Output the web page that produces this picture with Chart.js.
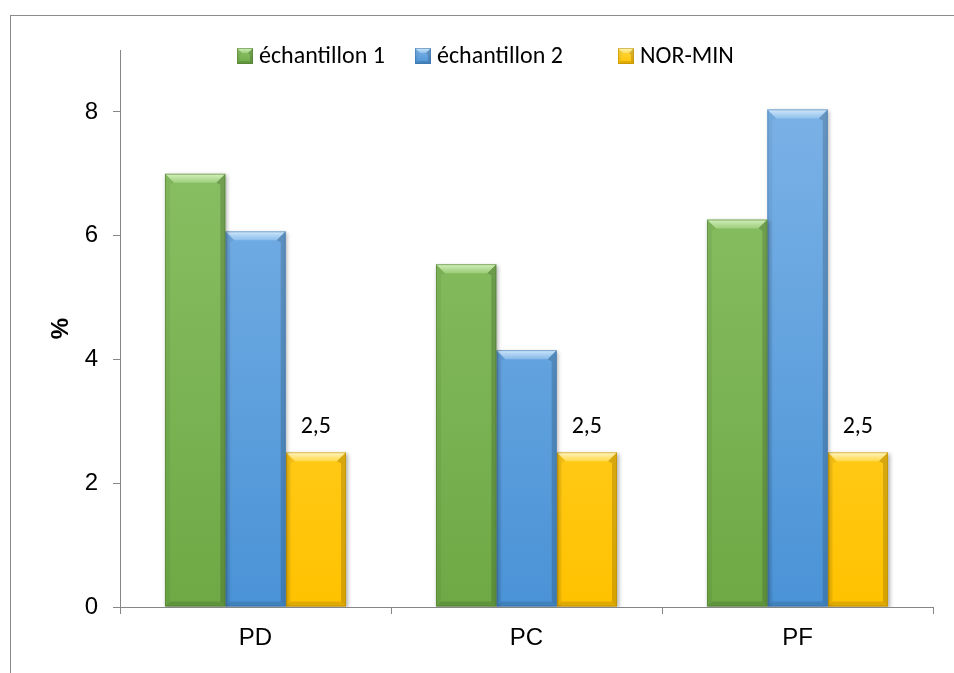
<!DOCTYPE html>
<html>
<head>
<meta charset="utf-8">
<script src="https://cdn.jsdelivr.net/npm/chart.js@4/dist/chart.umd.min.js"></script>
<style>
  html, body { margin: 0; padding: 0; background: #fff; }
  #wrap { width: 954px; height: 673px; position: relative; }
</style>
</head>
<body>
<div id="wrap"><canvas id="c" width="954" height="673"></canvas></div>
<script>
// Data
const categories = ['PD', 'PC', 'PF'];
const seriesNames = ['échantillon 1', 'échantillon 2', 'NOR-MIN'];
const sample1 = [7.0, 5.54, 6.26];
const sample2 = [6.07, 4.15, 8.04];
const norMin = [2.5, 2.5, 2.5];
const yTicks = [0, 2, 4, 6, 8];

// Bevelled fill palettes per series
const palettes = [
  { top: '#8fc46a', bottom: '#6ea945', hi: 'rgba(225,248,205,0.90)', hi2: 'rgba(190,230,160,0.45)', line: '#4f7d32' },
  { top: '#80b5e8', bottom: '#4a93d6', hi: 'rgba(225,242,255,0.90)', hi2: 'rgba(180,215,248,0.45)', line: '#3a72aa' },
  { top: '#ffd94a', bottom: '#ffc200', hi: 'rgba(255,250,215,0.95)', hi2: 'rgba(255,232,130,0.50)', line: '#b88d00' }
];

const AXIS_FONT = 'Liberation Sans, Arial, sans-serif';
const TEXT_FONT = 'Carlito, Lato, sans-serif';

function bodyGradient(ctx, idx) {
  const chart = ctx.chart;
  const area = chart.chartArea;
  if (!area) return palettes[idx].bottom;
  const g = chart.ctx.createLinearGradient(0, area.top, 0, area.bottom);
  g.addColorStop(0, palettes[idx].top);
  g.addColorStop(1, palettes[idx].bottom);
  return g;
}

function poly(c, pts, fill) {
  c.beginPath();
  c.moveTo(pts[0][0], pts[0][1]);
  for (let i = 1; i < pts.length; i++) c.lineTo(pts[i][0], pts[i][1]);
  c.closePath();
  c.fillStyle = fill;
  c.fill();
}

// Draws the bevel overlay on a rectangle (l,t)-(r,b)
function bevel(c, l, t, r, b, p, st, ss) {
  const h = b - t, w = r - l;
  const s = Math.min(st, h / 2, w / 2);
  const e = Math.min(ss, h / 2, w / 2);
  const g = c.createLinearGradient(0, t, 0, t + s);
  g.addColorStop(0, p.hi);
  g.addColorStop(1, p.hi2);
  poly(c, [[l, t], [r, t], [r - s, t + s], [l + s, t + s]], g);
  poly(c, [[l, t], [l + s, t + s], [l + e, t + s + 2], [l + e, b - e], [l, b]], 'rgba(0,0,0,0.05)');
  poly(c, [[r, t], [r, b], [r - e, b - e], [r - e, t + s + 2], [r - s, t + s]], 'rgba(0,0,0,0.16)');
  poly(c, [[l, b], [r, b], [r - e, b - e], [l + e, b - e]], 'rgba(0,0,0,0.12)');
  c.strokeStyle = p.line;
  c.globalAlpha = 0.55;
  c.lineWidth = 1;
  c.strokeRect(l + 0.5, t + 0.5, w - 1, h - 1);
  c.globalAlpha = 1;
}

const framePlugin = {
  id: 'frame',
  beforeDraw(chart) {
    const c = chart.ctx;
    c.save();
    c.strokeStyle = '#8c8c8c';
    c.lineWidth = 1;
    c.strokeRect(10.5, 15.5, 1000, 700);
    c.restore();
  }
};

const bevelPlugin = {
  id: 'bevel',
  beforeDatasetDraw(chart) {
    const c = chart.ctx;
    c.save();
    c.shadowColor = 'rgba(0,0,0,0.30)';
    c.shadowBlur = 4;
    c.shadowOffsetX = 1.5;
    c.shadowOffsetY = 1.5;
  },
  afterDatasetDraw(chart, args) {
    const c = chart.ctx;
    c.restore();
    c.save();
    const meta = args.meta;
    meta.data.forEach(el => {
      const { x, y, base, width } = el.getProps(['x', 'y', 'base', 'width'], true);
      bevel(c, x - width / 2, y, x + width / 2, base, palettes[args.index], 9, 5);
    });
    c.restore();
  }
};

const valueLabelPlugin = {
  id: 'valueLabels',
  afterDatasetsDraw(chart) {
    const c = chart.ctx;
    const idx = 2;
    const meta = chart.getDatasetMeta(idx);
    const data = chart.data.datasets[idx].data;
    c.save();
    c.font = '24px ' + TEXT_FONT;
    c.fillStyle = '#000';
    c.textAlign = 'center';
    c.textBaseline = 'middle';
    meta.data.forEach((el, i) => {
      const { x, y } = el.getProps(['x', 'y'], true);
      c.fillText(String(data[i]).replace('.', ','), x, y - 25);
    });
    c.restore();
  }
};

const legendPlugin = {
  id: 'topLegend',
  afterDraw(chart, args, opts) {
    const c = chart.ctx;
    c.save();
    c.font = '24px ' + TEXT_FONT;
    c.textBaseline = 'middle';
    c.textAlign = 'left';
    chart.data.datasets.forEach((ds, i) => {
      const bx = opts.x[i], by = opts.y;
      const p = palettes[i];
      const g = c.createLinearGradient(0, by, 0, by + 16);
      g.addColorStop(0, p.top);
      g.addColorStop(1, p.bottom);
      c.fillStyle = g;
      c.fillRect(bx, by, 16, 16);
      bevel(c, bx, by, bx + 16, by + 16, p, 5, 3);
      c.fillStyle = '#000';
      c.fillText(ds.label, bx + 22, by + 8.5);
    });
    c.restore();
  }
};

new Chart(document.getElementById('c'), {
  type: 'bar',
  data: {
    labels: categories,
    datasets: [
      { label: seriesNames[0], data: sample1, backgroundColor: ctx => bodyGradient(ctx, 0) },
      { label: seriesNames[1], data: sample2, backgroundColor: ctx => bodyGradient(ctx, 1) },
      { label: seriesNames[2], data: norMin, backgroundColor: ctx => bodyGradient(ctx, 2) }
    ]
  },
  options: {
    responsive: false,
    animation: false,
    devicePixelRatio: 1,
    layout: { padding: { left: 0, top: 50, right: 21, bottom: 0 } },
    datasets: { bar: { categoryPercentage: 0.668, barPercentage: 1, borderWidth: 0 } },
    plugins: {
      legend: { display: false },
      tooltip: { enabled: false },
      topLegend: { x: [237, 415, 618], y: 48 }
    },
    scales: {
      x: {
        offset: true,
        grid: { offset: true, drawOnChartArea: false, drawTicks: true, tickLength: 7, color: '#868686' },
        border: { display: true, color: '#868686', width: 1 },
        ticks: { font: { family: AXIS_FONT, size: 24 }, color: '#000', padding: 10 },
        afterFit(s) { s.height = 66; }
      },
      y: {
        min: 0,
        max: 9,
        afterBuildTicks(s) { s.ticks = yTicks.map(v => ({ value: v })); },
        grid: { drawOnChartArea: false, drawTicks: true, tickLength: 7, color: '#868686' },
        border: { display: true, color: '#868686', width: 1 },
        ticks: { font: { family: AXIS_FONT, size: 24 }, color: '#000', padding: 15 },
        title: {
          display: true,
          text: '%',
          color: '#000',
          font: { family: AXIS_FONT, size: 24, weight: 'bold' },
          padding: { top: 47, bottom: 0 }
        },
        afterFit(s) { s.width = 120; }
      }
    }
  },
  plugins: [framePlugin, bevelPlugin, valueLabelPlugin, legendPlugin]
});
</script>
</body>
</html>
